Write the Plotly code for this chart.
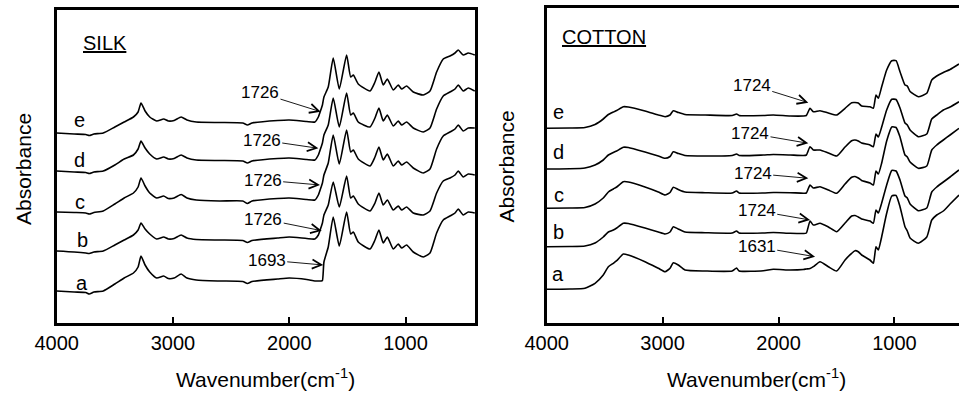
import plotly.graph_objects as go

# ---------------- SILK panel data (wavenumber, cm-1) ----------------
silk_wn = [4000, 3850, 3750, 3720, 3680, 3600, 3500, 3420, 3340, 3300,
           3275, 3240, 3200, 3140, 3080, 3040, 2990, 2930, 2880, 2800,
           2600, 2400, 2360, 2320, 2100, 2000, 1850, 1780, 1750, 1726,
           1715, 1702, 1665, 1622, 1570, 1507, 1472, 1449, 1407, 1306,
           1263, 1229, 1192, 1157, 1106, 1063, 1034, 991, 934, 848,
           790, 733, 676, 618, 575, 547, 504, 461, 405]

silk_a = [32, 31, 30.5, 29, 31, 32, 39, 45, 50, 56,
          67, 58, 51, 45, 47, 44.5, 45, 49, 45, 43,
          42, 41.5, 39.5, 41.5, 44, 45, 43.5, 42, 42, 42,
          42.5, 61, 76, 106, 77, 111, 89, 91, 81, 74,
          83, 93, 80, 86, 74, 79, 75, 78, 71, 66,
          70, 90, 103, 107, 110, 114, 108, 111, 110]

silk_b = [72, 71, 70, 69.5, 71, 72, 78, 83, 88, 93,
          100, 94, 89, 84, 86, 84, 84.5, 88, 85, 83.5,
          83, 82.5, 80.5, 82.5, 85, 86, 84.5, 84, 88, 96,
          100, 108, 118, 141, 116, 147, 125, 127, 119, 112,
          120, 130, 118, 123, 113, 117, 113, 116, 110, 108,
          112, 130, 142, 145, 148, 152, 146, 149, 148]

silk_c = [111, 110.5, 110, 109, 110.5, 112, 119, 125, 130, 136,
          145, 137, 130, 125, 127, 124.5, 125, 128.5, 125, 123,
          122, 122, 119.5, 122, 124.5, 125, 123.5, 123, 128, 136,
          140, 148, 160, 188, 159, 193, 171, 173, 164, 157,
          166, 176, 163, 169, 157, 162, 158, 161, 155, 150,
          154, 174, 187, 191, 194, 198, 192, 195, 195]

silk_d = [152, 151, 150.5, 149.5, 151, 152, 158, 164, 168, 174,
          182, 175, 169, 164, 166, 164, 164.5, 168, 165, 163,
          162.5, 162, 160, 162, 164.5, 165, 163.5, 163, 168, 176,
          180, 188, 198, 225, 196, 230, 208, 210, 201, 196,
          205, 215, 202, 208, 197, 202, 198, 201, 195, 191,
          195, 214, 227, 231, 234, 238, 232, 235, 232]

silk_e = [190, 189, 188.5, 187.5, 189, 190, 196, 201, 206, 211,
          220, 212, 206, 202, 204, 202, 202.5, 206, 203, 201,
          200.5, 200, 198, 200, 202.5, 203, 201.5, 201, 206, 214,
          218, 226, 236, 265, 234, 268, 246, 248, 239, 232,
          241, 251, 238, 244, 233, 238, 234, 237, 231, 228,
          232, 251, 264, 267, 270, 273, 268, 270, 268]

# ---------------- COTTON panel data ----------------
cotton_wn = [4000, 3800, 3670, 3583, 3512, 3468, 3425, 3396, 3339, 3296,
             3152, 3037, 2979, 2936, 2908, 2865, 2807, 2634, 2400, 2362,
             2340, 2131, 2045, 1900, 1786, 1760, 1728, 1700, 1642, 1570,
             1498, 1426, 1369, 1340, 1312, 1283, 1211, 1182, 1159, 1139,
             1110, 1067, 1023, 986, 952, 909, 889, 865, 794, 721,
             678, 635, 578, 520, 443]

cotton_a = [33.7, 34, 34.7, 39.7, 48, 56.3, 59.7, 62.3, 69, 68,
            61.3, 54.7, 51.3, 54.7, 60.3, 58, 53, 52, 52, 55,
            52, 52.3, 53.7, 53, 53.5, 54, 54.5, 56.3, 61.3, 56.3,
            52, 63, 69.7, 72.3, 71.3, 68, 63, 59.7, 76.3, 73,
            86.3, 109.7, 127, 127.5, 116.3, 96.3, 92, 85, 79.7, 86,
            103, 108, 112, 119, 128]

cotton_b = [76.3, 76.5, 77, 80, 86, 91, 93, 95, 99.7, 99.5,
            95, 91, 89, 91, 96.3, 94, 91, 90.3, 90, 92,
            90, 90, 90.5, 89.7, 89.5, 90, 102, 98, 99.7, 96,
            91.3, 100, 107, 107.5, 106, 104, 102, 99.7, 113, 110,
            120, 138, 152.5, 152, 143, 127, 125, 119, 112.3, 115,
            131, 136, 141, 146, 153]

cotton_c = [114.7, 115, 115.5, 119, 125, 131, 134, 136, 141.3, 141,
            136, 131, 128, 130.5, 135.7, 133.5, 131, 130.3, 130, 132,
            130, 130, 130.5, 130.3, 129.8, 130, 138, 135, 136.3, 133,
            129.7, 139, 145.7, 146.5, 145, 142.5, 140, 138, 152, 149,
            160, 182, 196, 195.5, 186, 168, 166, 161, 154.7, 157,
            173, 178, 183, 188, 194.7]

cotton_d = [154, 154.2, 155, 158, 163, 168, 170.5, 172, 175.7, 175.5,
            171, 167, 164.7, 166.5, 171.3, 169.5, 167.5, 167, 167.5, 169,
            167.5, 168, 168.5, 168, 167.5, 168, 176.3, 173, 173, 170,
            167, 176, 182.3, 183, 182, 180, 178, 176.3, 189, 186,
            196, 213, 223.7, 223.5, 215, 200, 198, 193, 186.3, 189,
            204, 208, 213, 216, 221.3]

cotton_e = [194.7, 195, 195.5, 198.5, 204, 208.5, 211, 212.5, 216.3, 216,
            212, 208, 206.3, 208, 212.3, 210.5, 208.5, 208, 207.5, 209,
            207.5, 207.5, 208, 207, 207, 207.5, 214.7, 211.3, 212.3, 210,
            208, 214.7, 220.3, 220.5, 220, 217, 216.3, 214.7, 228, 224.7,
            236.3, 253, 262.3, 262.3, 251.3, 238, 237, 231.5, 226.3, 229.7,
            243, 247, 250.5, 253.5, 259]

curve_names = ["a", "b", "c", "d", "e"]
x_ticks = [4000, 3000, 2000, 1000]
tick_text = ["4000", "3000", "2000", "1000"]

# peak markers: label, arrow-head position, text position
silk_marks = ["1693", "1726", "1726", "1726", "1726"]
silk_head_wn = [1708, 1721, 1736, 1750, 1730]
silk_head_y = [58, 92.3, 138, 174.7, 211.3]
silk_text_wn = [2194, 2224, 2229, 2237, 2252]
silk_text_y = [63, 104, 143, 183, 230.3]

cotton_marks = ["1631", "1724", "1724", "1724", "1724"]
cotton_head_wn = [1685, 1728, 1743, 1743, 1743]
cotton_head_y = [66.3, 103, 144.7, 179.7, 220.3]
cotton_text_wn = [2188, 2188, 2223, 2246, 2231]
cotton_text_y = [76.3, 112.3, 149.7, 189.7, 238]

silk_label_wn = [3785, 3780, 3800, 3808, 3800]
silk_label_y = [39.7, 83, 121.3, 163, 203]
cotton_label_wn = [3900, 3895, 3890, 3900, 3900]
cotton_label_y = [49, 91.3, 128, 171.3, 211.3]

FONT = "Liberation Sans, Arial, sans-serif"
W, H = 959, 394

fig = go.Figure()
silk_series = [silk_a, silk_b, silk_c, silk_d, silk_e]
cotton_series = [cotton_a, cotton_b, cotton_c, cotton_d, cotton_e]
for name, ys in zip(curve_names, silk_series):
    fig.add_trace(go.Scatter(x=silk_wn, y=ys, mode="lines", name="silk " + name,
                             line=dict(color="black", width=1.6, shape="spline", smoothing=0.5),
                             xaxis="x", yaxis="y", showlegend=False))
for name, ys in zip(curve_names, cotton_series):
    fig.add_trace(go.Scatter(x=cotton_wn, y=ys, mode="lines", name="cotton " + name,
                             line=dict(color="black", width=1.6, shape="spline", smoothing=0.5),
                             xaxis="x2", yaxis="y2", showlegend=False))

def px_x(p):
    return p / W

def px_y(p):
    return (H - p) / H

axis_common = dict(showgrid=False, zeroline=False, showline=True, linecolor="black",
                   linewidth=3, automargin=False)
fig.update_layout(
    template="none",
    width=W, height=H, autosize=False,
    margin=dict(l=0, r=0, t=0, b=0, pad=0),
    paper_bgcolor="white", plot_bgcolor="white",
    font=dict(family=FONT, color="black"),
    xaxis=dict(domain=[px_x(56.7), px_x(475)], range=[4000, 403], anchor="y",
               tickvals=x_ticks, ticktext=tick_text, ticks="inside", ticklen=6,
               tickwidth=1.5, tickcolor="black", mirror=True,
               tickfont=dict(size=20, family=FONT, color="black"), **axis_common),
    yaxis=dict(domain=[px_y(323), px_y(10)], range=[0, 313], anchor="x",
               showticklabels=False, ticks="", mirror=True, **axis_common),
    xaxis2=dict(domain=[px_x(546.7), 1.0], range=[4000, 443], anchor="y2",
                tickvals=x_ticks, ticktext=tick_text, ticks="inside", ticklen=6,
                tickwidth=1.5, tickcolor="black", mirror=True,
                tickfont=dict(size=20, family=FONT, color="black"), **axis_common),
    yaxis2=dict(domain=[px_y(323), px_y(8.3)], range=[0, 314.7], anchor="x2",
                showticklabels=False, ticks="", mirror=False, **axis_common),
)

ann = []
ann.append(dict(text="<u>SILK</u>", x=3585, y=280, xref="x", yref="y", showarrow=False,
                font=dict(size=20, family=FONT, color="black")))
ann.append(dict(text="<u>COTTON</u>", x=3506, y=285.7, xref="x2", yref="y2", showarrow=False,
                font=dict(size=20, family=FONT, color="black")))
for i, name in enumerate(curve_names):
    ann.append(dict(text=name, x=silk_label_wn[i], y=silk_label_y[i], xref="x", yref="y",
                    showarrow=False, font=dict(size=20, family=FONT, color="black")))
    ann.append(dict(text=name, x=cotton_label_wn[i], y=cotton_label_y[i], xref="x2", yref="y2",
                    showarrow=False, font=dict(size=20, family=FONT, color="black")))
for i in range(5):
    ann.append(dict(text=silk_marks[i], x=silk_head_wn[i], y=silk_head_y[i],
                    ax=silk_text_wn[i], ay=silk_text_y[i], xref="x", yref="y",
                    axref="x", ayref="y", showarrow=True, arrowhead=5, arrowsize=2,
                    arrowwidth=0.9, arrowcolor="black",
                    font=dict(size=17, family=FONT, color="black")))
    ann.append(dict(text=cotton_marks[i], x=cotton_head_wn[i], y=cotton_head_y[i],
                    ax=cotton_text_wn[i], ay=cotton_text_y[i], xref="x2", yref="y2",
                    axref="x2", ayref="y2", showarrow=True, arrowhead=5, arrowsize=2,
                    arrowwidth=0.9, arrowcolor="black",
                    font=dict(size=17, family=FONT, color="black")))
for xc in [265.8, 756.7]:
    ann.append(dict(text="Wavenumber(cm<sup>-1</sup>)", x=px_x(xc), y=px_y(378),
                    xref="paper", yref="paper", showarrow=False, xanchor="center",
                    yanchor="middle", font=dict(size=21, family=FONT, color="black")))
for xc, yc in [(23, 169), (506.7, 166.7)]:
    ann.append(dict(text="Absorbance", x=px_x(xc), y=px_y(yc), xref="paper", yref="paper",
                    showarrow=False, textangle=-90, xanchor="center", yanchor="middle",
                    font=dict(size=21, family=FONT, color="black")))
fig.update_layout(annotations=ann)

fig.write_html("out.html", config={"displayModeBar": False},
               post_script="document.body.style.margin='0';document.body.style.overflow='hidden';")
